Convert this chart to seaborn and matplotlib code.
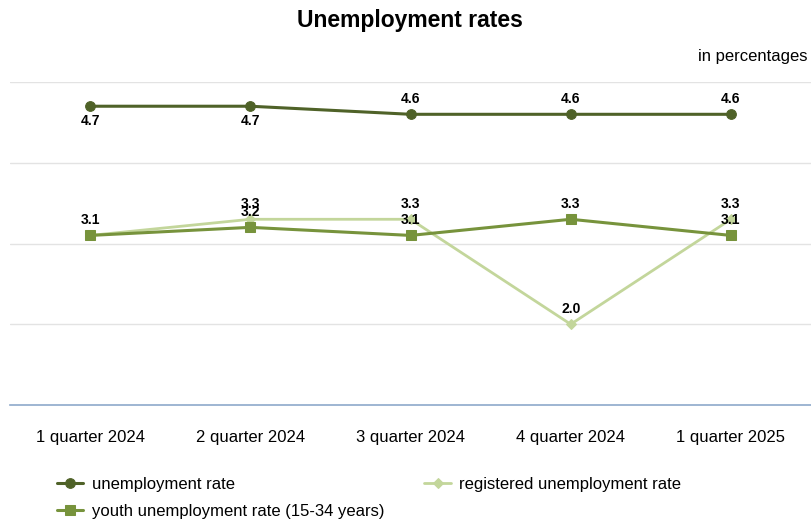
import matplotlib
matplotlib.use("Agg")
import matplotlib.pyplot as plt
import seaborn as sns
import pandas as pd

# === Daten ===
quarters = ["1 quarter 2024", "2 quarter 2024", "3 quarter 2024", "4 quarter 2024", "1 quarter 2025"]
unemployment = [4.7, 4.7, 4.6, 4.6, 4.6]
registered = [3.1, 3.3, 3.3, 2.0, 3.3]
youth = [3.1, 3.2, 3.1, 3.3, 3.1]

names = ["unemployment rate", "youth unemployment rate (15-34 years)", "registered unemployment rate"]
colors = ["#4f6228", "#77933c", "#c3d69b"]
markers = ["o", "s", "D"]

sns.set_theme(style="white")
plt.rcParams["font.family"] = ["Liberation Sans Narrow", "Liberation Sans", "DejaVu Sans"]
plt.rcParams["text.color"] = "black"

fig = plt.figure(figsize=(8.11, 5.2), dpi=100)
ax = fig.add_axes([10 / 811, (520 - 405) / 520, 801 / 811, (405 - 82) / 520])

series = [unemployment, youth, registered]
msizes = [7, 7, 5]
lw = [2.2, 2.2, 2.0]
for vals, name, col, mk, ms, w in zip(series, names, colors, markers, msizes, lw):
    df = pd.DataFrame({"x": range(len(quarters)), "y": vals})
    sns.lineplot(data=df, x="x", y="y", ax=ax, color=col, marker=mk, markersize=ms,
                 markeredgecolor=col, linewidth=w, label=name, zorder=3 if col != colors[2] else 2)

# Datenbeschriftungen
for i, v in enumerate(unemployment):
    if i < 2:
        ax.text(i, v - 0.1, f"{v:.1f}", ha="center", va="top", fontsize=10, fontweight="bold")
    else:
        ax.text(i, v + 0.1, f"{v:.1f}", ha="center", va="bottom", fontsize=10, fontweight="bold")
for i, v in enumerate(youth):
    ax.text(i, v + 0.1, f"{v:.1f}", ha="center", va="bottom", fontsize=10, fontweight="bold")
for i, v in enumerate(registered):
    if i == 0:
        continue
    ax.text(i, v + 0.1, f"{v:.1f}", ha="center", va="bottom", fontsize=10, fontweight="bold")

ax.set_xlim(-0.5, 4.5)
ax.set_ylim(1, 5)
ax.set_xticks(range(len(quarters)))
ax.set_xticklabels(quarters, fontsize=12, color="black")
ax.set_yticks([2, 3, 4, 5])
ax.set_yticklabels([])
ax.tick_params(axis="y", length=0)
ax.tick_params(axis="x", length=0, pad=18)
ax.grid(axis="y", color="#e3e3e3", linewidth=1)
ax.set_xlabel("")
ax.set_ylabel("")
for s in ["top", "left", "right"]:
    ax.spines[s].set_visible(False)
ax.spines["bottom"].set_color("#8ea9cb")
ax.spines["bottom"].set_linewidth(1.2)

ax.get_legend().remove()
handles, labels = ax.get_legend_handles_labels()
leg = fig.legend(handles, labels, ncol=2, loc="upper left", bbox_to_anchor=(50 / 811, 1 - 470 / 520),
                 frameon=False, fontsize=12, handlelength=1.6, handletextpad=0.5,
                 columnspacing=2.4, labelspacing=0.75, borderaxespad=0)
for t in leg.get_texts():
    t.set_color("black")

fig.text(410 / 811, 1 - 20 / 520, "Unemployment rates", ha="center", va="center",
         fontsize=16.5, fontweight="bold", color="black")
fig.text(808 / 811, 1 - 57 / 520, "in percentages", ha="right", va="center", fontsize=12, color="black")

fig.savefig("out.png", dpi=100)
